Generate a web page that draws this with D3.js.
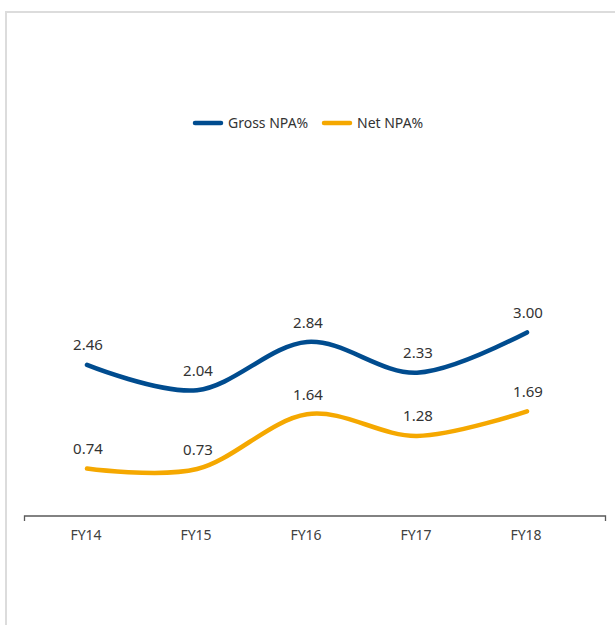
<!DOCTYPE html>
<html>
<head>
<meta charset="utf-8">
<script src="https://cdnjs.cloudflare.com/ajax/libs/d3/7.8.5/d3.min.js"></script>
<style>
  html, body { margin: 0; padding: 0; background: #fff; }
  svg { display: block; font-family: "Noto Sans", "Open Sans", sans-serif; }
</style>
</head>
<body>
<svg id="chart" width="615" height="625"></svg>
<script>
// Asset quality: gross and net NPA ratios by financial year
const years = ["FY14", "FY15", "FY16", "FY17", "FY18"];
const grossNPA = [2.46, 2.04, 2.84, 2.33, 3.00];
const netNPA = [0.74, 0.73, 1.64, 1.28, 1.69];
const seriesNames = ["Gross NPA%", "Net NPA%"];
const seriesColors = ["#004c8f", "#f5a800"];

const svg = d3.select("#chart");

// panel frame (open on the right and bottom)
svg.append("path")
  .attr("d", "M6,625 V12 H615")
  .attr("fill", "none")
  .attr("stroke", "#dcdcdc")
  .attr("stroke-width", 2);

const x = d3.scalePoint().domain(years).range([87, 527]);
const y = d3.scaleLinear().domain([0, 3]).range([513, 332.4]);

const series = [
  { name: seriesNames[0], color: seriesColors[0], values: grossNPA },
  { name: seriesNames[1], color: seriesColors[1], values: netNPA }
];

// category axis
const axisY = 516;
const axis = svg.append("g");
axis.append("path")
  .attr("d", `M24.5,${axisY + 5} V${axisY} H605.5 V${axisY + 5}`)
  .attr("fill", "none")
  .attr("stroke", "#5a5a5a")
  .attr("stroke-width", 1.3);
axis.selectAll("text.cat")
  .data(years)
  .join("text")
  .attr("class", "cat")
  .attr("x", d => x(d) - 1)
  .attr("y", axisY + 24)
  .attr("text-anchor", "middle")
  .attr("fill", "#404040")
  .attr("font-size", 14)
  .text(d => d);

// smoothed lines
const line = d3.line()
  .x((d, i) => x(years[i]))
  .y(d => y(d))
  .curve(d3.curveCardinal.tension(0));

series.forEach(s => {
  svg.append("path")
    .datum(s.values)
    .attr("d", line)
    .attr("fill", "none")
    .attr("stroke", s.color)
    .attr("stroke-width", 4.5)
    .attr("stroke-linecap", "round")
    .attr("stroke-linejoin", "round");

  svg.selectAll(null)
    .data(s.values)
    .join("text")
    .attr("x", (d, i) => x(years[i]) + 1)
    .attr("y", d => y(d) - 14.5)
    .attr("text-anchor", "middle")
    .attr("fill", "#333")
    .attr("font-size", 15)
    .text(d => d.toFixed(2));
});

// legend
const legendItems = [
  { name: seriesNames[0], color: seriesColors[0], x: 195 },
  { name: seriesNames[1], color: seriesColors[1], x: 324 }
];
const legend = svg.append("g");
legendItems.forEach(item => {
  legend.append("line")
    .attr("x1", item.x).attr("x2", item.x + 26)
    .attr("y1", 123).attr("y2", 123)
    .attr("stroke", item.color)
    .attr("stroke-width", 4.5)
    .attr("stroke-linecap", "round");
  legend.append("text")
    .attr("x", item.x + 33)
    .attr("y", 128)
    .attr("fill", "#333")
    .attr("font-size", 14)
    .text(item.name);
});
</script>
</body>
</html>
